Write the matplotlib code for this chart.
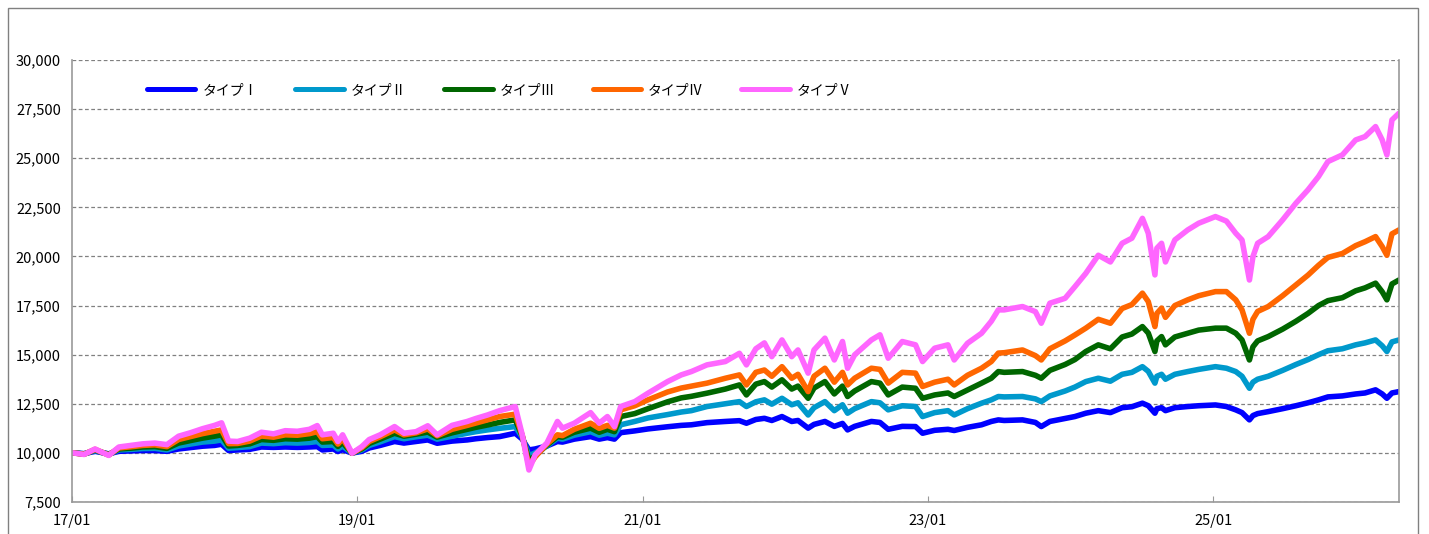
import pandas as pd
import matplotlib.pyplot as plt
import matplotlib.dates as mdates
from matplotlib.ticker import FuncFormatter, MultipleLocator
from matplotlib.patches import Rectangle

plt.rcParams['font.family'] = ['Noto Sans CJK JP', 'DejaVu Sans']

# 読み取り値（基準日 2017/01 = 10,000）
dates = ['2017-01-04', '2017-02-01', '2017-03-01', '2017-04-05', '2017-05-01', '2017-06-01',
         '2017-07-01', '2017-08-01', '2017-09-01', '2017-10-01', '2017-11-01', '2017-12-01',
         '2018-01-01', '2018-01-19', '2018-02-06', '2018-03-01', '2018-04-01', '2018-05-01',
         '2018-06-01', '2018-07-01', '2018-08-01', '2018-09-01', '2018-09-21', '2018-10-04',
         '2018-11-01', '2018-11-13', '2018-11-25', '2018-12-19', '2019-01-13', '2019-02-01',
         '2019-03-01', '2019-04-07', '2019-05-01', '2019-06-01', '2019-07-01', '2019-07-25',
         '2019-09-01', '2019-10-10', '2019-11-01', '2019-12-01', '2020-01-01', '2020-02-10',
         '2020-02-28', '2020-03-16', '2020-04-01', '2020-05-01', '2020-05-28', '2020-06-10',
         '2020-07-10', '2020-08-21', '2020-09-12', '2020-10-03', '2020-10-21', '2020-11-06',
         '2020-12-12', '2021-01-15', '2021-03-06', '2021-04-10', '2021-05-06', '2021-06-15',
         '2021-08-01', '2021-09-06', '2021-09-24', '2021-10-18', '2021-11-09', '2021-11-28',
         '2021-12-24', '2022-01-18', '2022-02-03', '2022-03-01', '2022-03-16', '2022-04-13',
         '2022-05-07', '2022-05-28', '2022-06-10', '2022-06-28', '2022-08-10', '2022-09-01',
         '2022-09-22', '2022-10-28', '2022-12-01', '2022-12-19', '2023-01-19', '2023-02-22',
         '2023-03-10', '2023-04-13', '2023-05-19', '2023-06-13', '2023-07-01', '2023-07-16',
         '2023-09-01', '2023-10-04', '2023-10-19', '2023-11-10', '2023-12-19', '2024-01-13',
         '2024-02-10', '2024-03-13', '2024-04-13', '2024-05-13', '2024-06-07', '2024-07-04',
         '2024-07-19', '2024-08-05', '2024-08-10', '2024-08-22', '2024-09-01', '2024-09-25',
         '2024-10-28', '2024-11-25', '2025-01-07', '2025-02-04', '2025-02-28', '2025-03-16',
         '2025-04-04', '2025-04-13', '2025-04-25', '2025-05-22', '2025-06-28', '2025-08-01',
         '2025-09-01', '2025-09-28', '2025-10-22', '2025-11-28', '2026-01-01', '2026-01-25',
         '2026-02-21', '2026-03-10', '2026-03-22', '2026-04-04', '2026-04-22']

type1 = [10000, 9960, 10080, 9950, 10080, 10100, 10120, 10120, 10080, 10200, 10270, 10340,
         10380, 10440, 10120, 10150, 10180, 10300, 10280, 10300, 10280, 10300, 10320, 10150,
         10200, 10070, 10160, 9990, 10080, 10250, 10380, 10580, 10500, 10580, 10660, 10490,
         10600, 10660, 10720, 10780, 10830, 11000, 10700, 10150, 10200, 10350, 10580, 10550,
         10700, 10830, 10700, 10780, 10700, 11030, 11120, 11220, 11330, 11400, 11430, 11540,
         11600, 11640, 11510, 11700, 11760, 11650, 11850, 11600, 11650, 11260, 11450, 11600,
         11350, 11500, 11170, 11350, 11600, 11550, 11200, 11350, 11340, 11000, 11150, 11200,
         11140, 11300, 11430, 11600, 11680, 11650, 11680, 11550, 11340, 11600, 11750, 11850,
         12020, 12150, 12050, 12300, 12350, 12530, 12400, 12020, 12250, 12300, 12150, 12300,
         12360, 12400, 12440, 12360, 12190, 12050, 11680, 11900, 12000, 12100, 12250, 12400,
         12550, 12700, 12850, 12900, 13000, 13050, 13210, 13000, 12780, 13050, 13120]

type2 = [10000, 9950, 10120, 9930, 10150, 10180, 10220, 10230, 10150, 10350, 10450, 10550,
         10600, 10660, 10240, 10270, 10320, 10500, 10470, 10520, 10500, 10530, 10580, 10380,
         10400, 10200, 10350, 9990, 10150, 10380, 10560, 10830, 10720, 10820, 10900, 10700,
         10850, 11000, 11080, 11170, 11250, 11340, 10800, 9850, 10000, 10350, 10750, 10700,
         10900, 11080, 10900, 11000, 10920, 11430, 11600, 11780, 11950, 12080, 12150, 12360,
         12500, 12610, 12360, 12600, 12700, 12480, 12780, 12450, 12550, 11930, 12300, 12610,
         12150, 12450, 12020, 12250, 12610, 12550, 12190, 12400, 12360, 11850, 12050, 12150,
         11930, 12250, 12530, 12700, 12870, 12850, 12870, 12750, 12610, 12900, 13150, 13350,
         13630, 13800, 13650, 14000, 14100, 14390, 14150, 13550, 13900, 14000, 13750, 14000,
         14140, 14250, 14390, 14310, 14140, 13900, 13290, 13600, 13750, 13900, 14200, 14500,
         14750, 15000, 15200, 15300, 15500, 15600, 15750, 15450, 15160, 15650, 15750]

type3 = [10000, 9940, 10150, 9910, 10200, 10240, 10300, 10320, 10230, 10500, 10630, 10750,
         10850, 10920, 10350, 10380, 10460, 10680, 10640, 10720, 10700, 10750, 10830, 10550,
         10580, 10330, 10530, 9985, 10200, 10480, 10700, 11000, 10850, 10950, 11060, 10800,
         11020, 11200, 11300, 11420, 11550, 11680, 10850, 9600, 9850, 10400, 10830, 10800,
         11050, 11260, 11050, 11200, 11080, 11850, 12000, 12250, 12600, 12800, 12880, 13040,
         13250, 13460, 12950, 13500, 13630, 13350, 13720, 13250, 13400, 12780, 13300, 13630,
         13000, 13400, 12870, 13150, 13630, 13550, 12950, 13350, 13290, 12780, 12950, 13050,
         12870, 13200, 13550, 13800, 14140, 14100, 14140, 13950, 13800, 14200, 14500, 14750,
         15160, 15500, 15300, 15900, 16050, 16430, 16100, 15160, 15700, 15920, 15500, 15900,
         16090, 16250, 16350, 16350, 16090, 15750, 14730, 15400, 15700, 15920, 16300, 16700,
         17100, 17500, 17750, 17900, 18250, 18400, 18640, 18200, 17790, 18600, 18800]

type4 = [10000, 9930, 10180, 9890, 10250, 10310, 10380, 10410, 10320, 10680, 10830, 10980,
         11100, 11170, 10470, 10480, 10600, 10860, 10800, 10920, 10900, 10980, 11080, 10720,
         10780, 10450, 10720, 9980, 10260, 10580, 10820, 11170, 10920, 11020, 11220, 10870,
         11200, 11400, 11520, 11680, 11850, 11970, 10880, 9350, 9800, 10450, 10920, 10880,
         11200, 11510, 11250, 11400, 11260, 12190, 12400, 12700, 13100, 13300, 13400, 13550,
         13800, 13970, 13460, 14100, 14220, 13900, 14390, 13800, 14000, 13120, 13900, 14310,
         13600, 14100, 13460, 13800, 14310, 14250, 13550, 14100, 14060, 13380, 13600, 13750,
         13460, 13950, 14310, 14650, 15080, 15100, 15240, 14950, 14730, 15300, 15700, 16000,
         16350, 16800, 16600, 17350, 17550, 18130, 17700, 16430, 17100, 17370, 16900, 17500,
         17790, 18000, 18210, 18210, 17790, 17280, 16090, 16800, 17200, 17450, 18000, 18550,
         19050, 19550, 19950, 20150, 20550, 20750, 21010, 20500, 20060, 21150, 21350]

type5 = [10000, 9920, 10200, 9870, 10300, 10380, 10460, 10500, 10420, 10850, 11030, 11230,
         11400, 11530, 10600, 10580, 10750, 11050, 10970, 11130, 11100, 11200, 11390, 10920,
         11000, 10580, 10920, 9980, 10320, 10680, 10920, 11340, 11000, 11080, 11380, 10920,
         11400, 11600, 11750, 11930, 12150, 12360, 10920, 9130, 9900, 10500, 11600, 11260,
         11510, 12050, 11510, 11850, 11340, 12360, 12610, 13040, 13630, 13970, 14140, 14480,
         14650, 15070, 14480, 15300, 15600, 14900, 15750, 14900, 15240, 14060, 15240, 15840,
         14730, 15670, 14310, 14990, 15750, 16010, 14820, 15670, 15500, 14650, 15330, 15500,
         14730, 15580, 16090, 16700, 17280, 17280, 17450, 17190, 16600, 17620, 17870, 18460,
         19140, 20060, 19720, 20670, 20930, 21940, 21180, 19060, 20420, 20670, 19720, 20840,
         21350, 21690, 22030, 21800, 21180, 20840, 18800, 19990, 20670, 21010, 21860, 22710,
         23390, 24070, 24830, 25170, 25930, 26100, 26610, 25930, 25170, 26950, 27290]

labels = ['タイプⅠ', 'タイプⅡ', 'タイプⅢ', 'タイプⅣ', 'タイプⅤ']
colors = ['#0000FF', '#0099CC', '#006600', '#FF6600', '#FF66FF']

df = pd.DataFrame({'date': pd.to_datetime(dates), 'I': type1, 'II': type2,
                   'III': type3, 'IV': type4, 'V': type5})

fig = plt.figure(figsize=(14.29, 5.34), dpi=100)
ax = fig.add_axes([72 / 1429, 1 - 502 / 534, (1399 - 72) / 1429, (502 - 60) / 534])

# 外枠
fig.patches.append(Rectangle((8 / 1429, -0.05), (1418 - 8) / 1429, 1.05 - 8 / 534,
                             transform=fig.transFigure, fill=False,
                             edgecolor='#808080', linewidth=1.0))

for col, lab, c in zip(['I', 'II', 'III', 'IV', 'V'], labels, colors):
    ax.plot(df['date'], df[col], color=c, linewidth=4.0, label=lab,
            solid_joinstyle='round', solid_capstyle='round')

ax.set_ylim(7500, 30000)
ax.yaxis.set_major_locator(MultipleLocator(2500))
ax.yaxis.set_major_formatter(FuncFormatter(lambda v, p: f'{int(v):,}'))
ax.grid(axis='y', color='#808080', linestyle=(0, (3, 2)), linewidth=0.9)
ax.set_axisbelow(True)

ax.set_xlim(pd.Timestamp('2017-01-01'), pd.Timestamp('2026-04-22'))
ticks = pd.to_datetime(['2017-01-01', '2019-01-01', '2021-01-01', '2023-01-01', '2025-01-01'])
ax.set_xticks(ticks)
ax.xaxis.set_major_formatter(mdates.DateFormatter('%y/%m'))

ax.tick_params(axis='y', length=0, labelsize=10.5, pad=8)
ax.tick_params(axis='x', direction='in', length=4, color='#999999', labelsize=10.5, pad=9)

for s in ['left', 'right', 'bottom']:
    ax.spines[s].set_color('#999999')
    ax.spines[s].set_linewidth(1.2)
ax.spines['top'].set_visible(False)

leg = ax.legend(loc='center left', bbox_to_anchor=(0.047, 0.932), ncol=5, frameon=False,
                fontsize=10, handlelength=3.5, handletextpad=0.5, columnspacing=2.7)
for line in leg.get_lines():
    line.set_linewidth(3.6)

fig.savefig('out.png', dpi=100)
